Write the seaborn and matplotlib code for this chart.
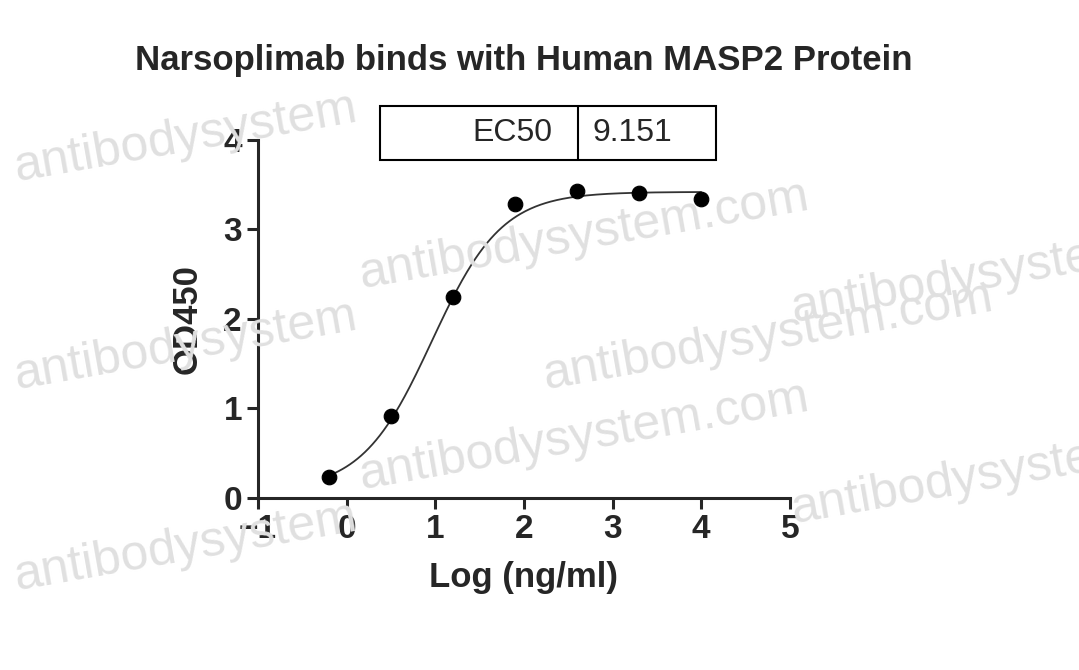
import numpy as np
import matplotlib.pyplot as plt
import seaborn as sns

# -------------------- #
# Data
# -------------------- #
log_conc = [-0.2, 0.5, 1.2, 1.9, 2.6, 3.3, 4.0]
od450 = [0.23, 0.91, 2.24, 3.29, 3.43, 3.41, 3.34]
ec50 = 9.151

# 4PL fit parameters (estimated)
bottom, top, hill = 0.08, 3.42, 1.1

sns.set_style("ticks")
plt.rcParams['font.family'] = ['Liberation Sans', 'DejaVu Sans']

fig = plt.figure(figsize=(10.79, 6.7), dpi=100)
ax = fig.add_axes([0.239, 0.257, 0.493, 0.534])

# watermark (light, behind everything)
for (wx, wy) in [(0.01, 0.73), (0.50, 0.42), (0.01, 0.42), (0.73, 0.52),
                 (0.01, 0.12), (0.73, 0.22), (0.33, 0.27), (0.33, 0.57)]:
    fig.text(wx, wy, "antibodysystem.com" if wx > 0.3 else "antibodysystem",
             fontsize=36, color="#e0e0e0", rotation=10, zorder=0)

xs = np.linspace(-0.2, 4.0, 300)
fit = bottom + (top - bottom) / (1 + 10 ** ((np.log10(ec50) - xs) * hill))
sns.lineplot(x=xs, y=fit, ax=ax, color="#333333", lw=1.3)
sns.scatterplot(x=log_conc, y=od450, ax=ax, color="black", s=110, edgecolor="black", zorder=3)

ax.set_xlim(-1, 5)
ax.set_ylim(0, 4)
ax.set_xticks(range(-1, 6))
ax.set_yticks(range(0, 5))
sns.despine(ax=ax)
for s in ["left", "bottom"]:
    ax.spines[s].set_linewidth(2.2)
ax.tick_params(width=2.2, length=8, labelsize=24)
for lab in ax.get_xticklabels() + ax.get_yticklabels():
    lab.set_fontweight("bold")
ax.set_xlabel("Log (ng/ml)", fontsize=25, fontweight="bold", labelpad=12)
ax.set_ylabel("OD450", fontsize=25, fontweight="bold", labelpad=14)
ax.patch.set_alpha(0)

fig.suptitle("Narsoplimab binds with Human MASP2 Protein", x=0.485, y=0.935,
             fontsize=25, fontweight="bold")

# EC50 table box
fig.patches.append(plt.Rectangle((380 / 1079, 1 - 160 / 670), 336 / 1079, 54 / 670,
                                 transform=fig.transFigure, fill=False, lw=1.5, color="black"))
fig.lines.append(plt.Line2D([578 / 1079, 578 / 1079], [1 - 160 / 670, 1 - 106 / 670],
                            transform=fig.transFigure, color="black", lw=1.5))
fig.text(552 / 1079, 1 - 133 / 670, "EC50", fontsize=23, ha="right", va="center")
fig.text(592 / 1079, 1 - 133 / 670, "9.151", fontsize=23, ha="left", va="center")

fig.savefig("out.png", dpi=100)
